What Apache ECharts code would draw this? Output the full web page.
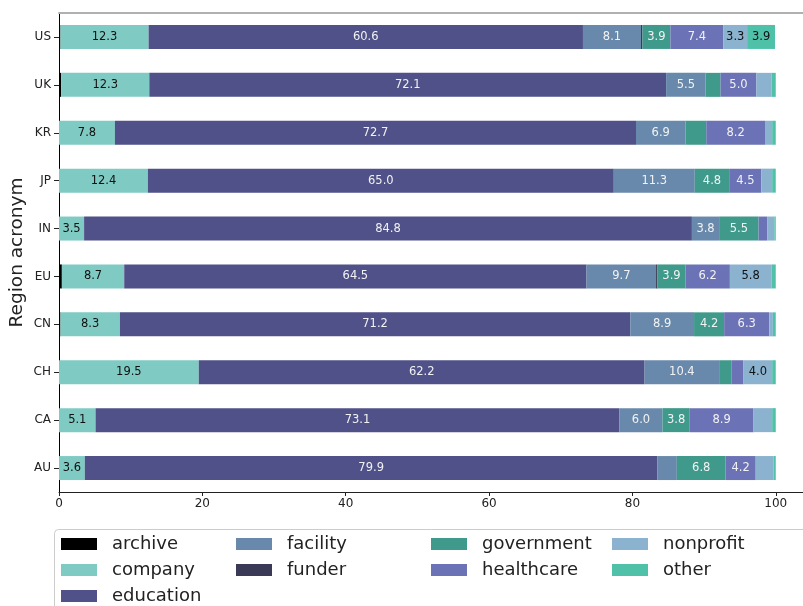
<!DOCTYPE html>
<html>
<head>
<meta charset="utf-8">
<script src="https://cdn.jsdelivr.net/npm/echarts@6/dist/echarts.min.js"></script>
<style>html,body{margin:0;padding:0;background:#fff;}#c{width:803px;height:606px;}</style>
</head>
<body>
<div id="c"></div>
<script>
const categories = ['US','UK','KR','JP','IN','EU','CN','CH','CA','AU'];
const seriesNames = ['archive','company','education','facility','funder','government','healthcare','nonprofit','other'];
const archive    = [0.2, 0.3, 0,   0,    0,    0.4, 0.2, 0,    0,    0];
const company    = [12.3,12.3,7.8, 12.4, 3.5,  8.7, 8.3, 19.5, 5.1,  3.6];
const education  = [60.6,72.1,72.7,65.0, 84.8, 64.5,71.2,62.2, 73.1, 79.9];
const facility   = [8.1, 5.5, 6.9, 11.3, 3.8,  9.7, 8.9, 10.4, 6.0,  2.7];
const funder     = [0.2, 0,   0,   0,    0,    0.2, 0,   0,    0,    0];
const government = [3.9, 2.1, 2.9, 4.8,  5.5,  3.9, 4.2, 1.7,  3.8,  6.8];
const healthcare = [7.4, 5.0, 8.2, 4.5,  1.2,  6.2, 6.3, 1.7,  8.9,  4.2];
const nonprofit  = [3.3, 2.1, 1.0, 1.5,  1.0,  5.8, 0.5, 4.0,  2.6,  2.5];
const other      = [3.9, 0.6, 0.5, 0.5,  0.2,  0.6, 0.4, 0.5,  0.5,  0.3];
const xTicks = [0, 20, 40, 60, 80, 100];

const values = {archive, company, education, facility, funder, government, healthcare, nonprofit, other};
const colors = {
  archive:'#000000', company:'#7fcbc3', education:'#4f5188', facility:'#6889ab',
  funder:'#3b3a56', government:'#3f9a8b', healthcare:'#6b72b6', nonprofit:'#8bb2cf', other:'#4fc1a9'
};
const darkText = {company:true, nonprofit:true, other:true, archive:false};
const FONT = 'DejaVu Sans';

const series = seriesNames.map(n => ({
  name: n, type: 'bar', stack: 'total', barWidth: 24,
  data: values[n],
  itemStyle: {color: colors[n]},
  label: {
    show: true, position: 'inside', fontFamily: FONT, fontSize: 11.5,
    color: darkText[n] ? '#111111' : '#f2f2f2',
    formatter: p => (p.value >= 3 ? p.value.toFixed(1) : '')
  },
  emphasis: {disabled: true}
}));

const legendCols = [
  ['archive','company','education'],
  ['facility','funder'],
  ['government','healthcare'],
  ['nonprofit','other']
];
const legendLeft = [61, 236, 431, 612];
const legends = legendCols.map((d, i) => ({
  data: d, orient: 'vertical', left: legendLeft[i], top: 535, padding: 0,
  itemWidth: 36, itemHeight: 12, itemGap: 8, icon: 'rect',
  selectedMode: false,
  textStyle: {fontFamily: FONT, fontSize: 18, color: '#222', lineHeight: 18, padding: [0,0,0,10]}
}));

const chart = echarts.init(document.getElementById('c'), null, {renderer: 'canvas'});
chart.setOption({
  animation: false,
  backgroundColor: '#fff',
  graphic: [{
    type: 'rect', left: 54, top: 529, z: -10,
    shape: {x: 0.5, y: 0.5, width: 800, height: 100, r: 4},
    style: {fill: '#fff', stroke: '#cccccc', lineWidth: 1}
  }],
  legend: legends,
  grid: {left: 59, right: 0, top: 13, bottom: 114, containLabel: false, outerBoundsMode: 'none'},
  xAxis: [{
    type: 'value', min: 0, max: 103.8, interval: 20,
    axisLine: {show: true, lineStyle: {color: '#222', width: 1}},
    axisTick: {show: true, length: 4, lineStyle: {color: '#222'}},
    axisLabel: {
      fontFamily: FONT, fontSize: 12, color: '#222', margin: 6,
      formatter: v => (xTicks.indexOf(v) >= 0 ? String(v) : '')
    },
    splitLine: {show: false}
  }, {
    type: 'value', position: 'top', min: 0, max: 103.8,
    axisLine: {show: true, lineStyle: {color: '#b0b0b0', width: 2}},
    axisTick: {show: false}, axisLabel: {show: false}, splitLine: {show: false}
  }],
  yAxis: {
    type: 'category', data: categories, inverse: true,
    name: 'Region acronym', nameLocation: 'middle', nameGap: 32, nameMoveOverlap: false,
    nameTextStyle: {fontFamily: FONT, fontSize: 18.5, color: '#222'},
    axisLine: {show: true, lineStyle: {color: '#000', width: 1}},
    axisTick: {show: true, alignWithLabel: true, length: 5, lineStyle: {color: '#222'}},
    axisLabel: {fontFamily: FONT, fontSize: 12, color: '#222', margin: 8},
    splitLine: {show: false}
  },
  series: series
});
</script>
</body>
</html>
